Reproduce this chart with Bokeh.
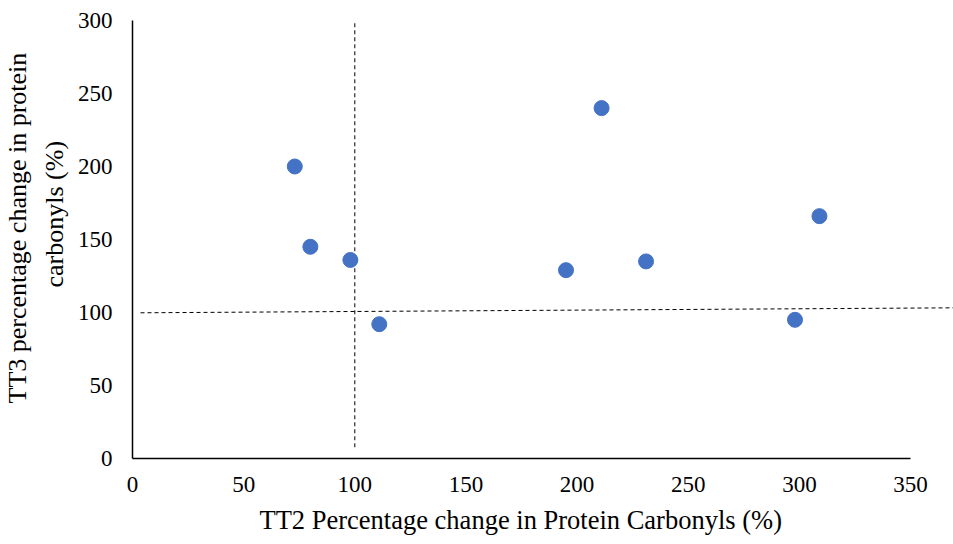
from bokeh.plotting import figure
from bokeh.models import Range1d, FixedTicker, Title
from bokeh.embed import file_html
from bokeh.resources import INLINE

# Data
tt2_change = [73, 80, 98, 111, 195, 211, 231, 298, 309]
tt3_change = [200, 145, 136, 92, 129, 240, 135, 95, 166]

# Reference (dashed) lines
vline_x = [100, 100]
vline_y = [7.7, 300]
hline_x = [3.6, 369.3]
hline_y = [99.8, 103.2]

x_ticks = [0, 50, 100, 150, 200, 250, 300, 350]
y_ticks = [0, 50, 100, 150, 200, 250, 300]

x_title = "TT2 Percentage change in Protein Carbonyls (%)"
y_title_lines = ["TT3 percentage change in protein", "carbonyls (%)"]

FONT = "'Liberation Serif'"

p = figure(width=953, height=544, output_backend="svg", toolbar_location=None,
           x_range=Range1d(0, 369.3), y_range=Range1d(0, 300),
           min_border_left=130, min_border_top=20, min_border_bottom=86,
           min_border_right=0)
p.outline_line_color = None
p.xgrid.visible = False
p.ygrid.visible = False
p.background_fill_color = "white"
p.border_fill_color = "white"

p.line(vline_x, vline_y, line_color="black", line_width=1, line_dash="4 3")
p.line(hline_x, hline_y, line_color="black", line_width=1, line_dash="4 3")

p.scatter(tt2_change, tt3_change, size=15, fill_color="#4472C4", line_color="#4472C4")

for ax in (p.xaxis[0], p.yaxis[0]):
    ax.axis_line_color = "black"
    ax.axis_line_width = 1.5
    ax.major_tick_line_color = None
    ax.minor_tick_line_color = None
    ax.major_tick_out = 0
    ax.major_tick_in = 0
    ax.major_label_text_font = FONT
    ax.major_label_text_font_size = "23px"
    ax.major_label_text_color = "black"

p.xaxis[0].ticker = FixedTicker(ticks=x_ticks)
p.yaxis[0].ticker = FixedTicker(ticks=y_ticks)
p.xaxis[0].bounds = (0, 350)
p.yaxis[0].bounds = (0, 300)
p.xaxis[0].major_label_standoff = 18
p.yaxis[0].major_label_standoff = 20

# Axis titles as Title annotations, aligned like the reference
def add_title(text, side, offset, standoff, size="26.5px"):
    t = Title(text=text, align="left", offset=offset, standoff=standoff,
              text_font=FONT, text_font_size=size, text_font_style="normal",
              text_color="black")
    p.add_layout(t, side)

add_title(x_title, "below", 127, 16)
add_title(y_title_lines[1], "left", 171, 12, "26px")
add_title(y_title_lines[0], "left", 55, 0, "26px")

open("out.html", "w").write(file_html(p, INLINE))
